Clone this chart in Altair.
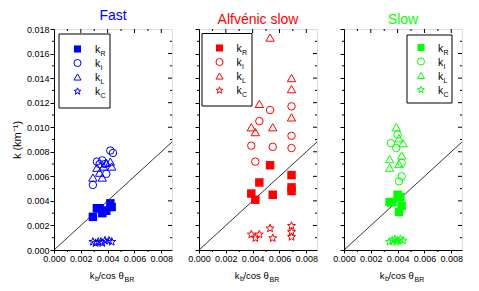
import math
import altair as alt
import pandas as pd

FONT = "Liberation Sans"
XMAX = 0.0088
YMAX = 0.018
W, H = 118, 221

panels = ["Fast", "Alfvénic slow", "Slow"]
colors = ["#0000ff", "#ff0000", "#00ff00"]
kinds = ["R", "I", "L", "C"]

x_ticks = [0.0, 0.002, 0.004, 0.006, 0.008]
y_ticks = [0.0, 0.002, 0.004, 0.006, 0.008, 0.010, 0.012, 0.014, 0.016, 0.018]
x_minor = [0.001, 0.003, 0.005, 0.007]
y_minor = [0.001, 0.003, 0.005, 0.007, 0.009, 0.011, 0.013, 0.015, 0.017]

# ---- Fast ----
fast_R_x = [0.0029, 0.0032, 0.0034, 0.0036, 0.0037, 0.0039, 0.0042, 0.0043]
fast_R_y = [0.0027, 0.0034, 0.0034, 0.0030, 0.0032, 0.0032, 0.0038, 0.0035]
fast_I_x = [0.0029, 0.0032, 0.0034, 0.0036, 0.0039, 0.0042, 0.0044, 0.0038]
fast_I_y = [0.0053, 0.0072, 0.0070, 0.0073, 0.0062, 0.0081, 0.0079, 0.0070]
fast_L_x = [0.0029, 0.0032, 0.0034, 0.0036, 0.0037, 0.0039, 0.0043, 0.0042]
fast_L_y = [0.0059, 0.0067, 0.0063, 0.0059, 0.0068, 0.0071, 0.0068, 0.0072]
fast_C_x = [0.0029, 0.0031, 0.0033, 0.0035, 0.0036, 0.0038, 0.0041, 0.0043]
fast_C_y = [0.0007, 0.0006, 0.0007, 0.0007, 0.0006, 0.0008, 0.0008, 0.0007]

# ---- Alfvenic slow ----
alf_R_x = [0.0039, 0.0042, 0.0045, 0.0053, 0.0055, 0.0069, 0.0069, 0.0069]
alf_R_y = [0.0046, 0.0041, 0.0055, 0.0069, 0.0045, 0.0061, 0.0051, 0.0048]
alf_I_x = [0.0039, 0.0042, 0.0045, 0.0053, 0.0055, 0.0069, 0.0069, 0.0069]
alf_I_y = [0.0085, 0.0072, 0.0105, 0.0114, 0.0084, 0.0117, 0.0093, 0.0083]
alf_L_x = [0.0053, 0.0069, 0.0069, 0.0045, 0.0069, 0.0039, 0.0042, 0.0055]
alf_L_y = [0.0173, 0.0140, 0.0131, 0.0119, 0.0108, 0.0100, 0.0096, 0.0100]
alf_C_x = [0.0039, 0.0042, 0.0045, 0.0053, 0.0055, 0.0069, 0.0069, 0.0069]
alf_C_y = [0.0013, 0.0010, 0.0013, 0.0018, 0.0010, 0.0020, 0.0015, 0.0011]

# ---- Slow ----
slow_R_x = [0.0034, 0.0036, 0.0040, 0.0042, 0.0043, 0.0041]
slow_R_y = [0.0039, 0.0039, 0.0045, 0.0043, 0.0036, 0.0031]
slow_I_x = [0.0035, 0.0039, 0.0040, 0.0043, 0.0041, 0.0043]
slow_I_y = [0.0087, 0.0083, 0.0094, 0.0060, 0.0056, 0.0071]
slow_L_x = [0.0039, 0.0041, 0.0044, 0.0034, 0.0043, 0.0034, 0.0041]
slow_L_y = [0.0100, 0.0091, 0.0087, 0.0074, 0.0077, 0.0067, 0.0070]
slow_C_x = [0.0034, 0.0036, 0.0038, 0.0040, 0.0042, 0.0044, 0.0039]
slow_C_y = [0.0007, 0.0008, 0.0009, 0.0008, 0.0009, 0.0008, 0.0007]

series = {
    "Fast": {"R": (fast_R_x, fast_R_y), "I": (fast_I_x, fast_I_y),
             "L": (fast_L_x, fast_L_y), "C": (fast_C_x, fast_C_y)},
    "Alfvénic slow": {"R": (alf_R_x, alf_R_y), "I": (alf_I_x, alf_I_y),
                      "L": (alf_L_x, alf_L_y), "C": (alf_C_x, alf_C_y)},
    "Slow": {"R": (slow_R_x, slow_R_y), "I": (slow_I_x, slow_I_y),
             "L": (slow_L_x, slow_L_y), "C": (slow_C_x, slow_C_y)},
}

rows = []
for p, dd in series.items():
    for k, (xs_, ys_) in dd.items():
        for a, b in zip(xs_, ys_):
            rows.append({"panel": p, "kind": k, "x": a, "y": b})
df = pd.DataFrame(rows)

# five-point star symbol path
pts = []
for i in range(10):
    r = 1.0 if i % 2 == 0 else 0.42
    a = -math.pi / 2 + i * math.pi / 5
    pts.append(f"{r*math.cos(a):.3f},{r*math.sin(a)+0.1:.3f}")
STAR = "M" + "L".join(pts) + "Z"

shape_of = {"R": "square", "I": "circle", "L": "triangle-up", "C": STAR}
filled_of = {"R": True, "I": False, "L": False, "C": False}
size_of = {"R": 72, "I": 56, "L": 70, "C": 70}

# legend layout per panel: (box x0, box x1, box y0, box y1, symbol x, k x, first row y)
legend_layout = [
    (5, 56, 5, 79, 23.5, 41, 20),
    (3, 53, 4.5, 77, 20.5, 37.5, 19),
    (63, 108, 6, 74, 77, 94, 18.5),
]

one = pd.DataFrame({"a": [0]})


def make_panel(idx):
    name = panels[idx]
    color = colors[idx]
    d = df[df.panel == name]
    xs = alt.Scale(domain=[0, XMAX], nice=False, zero=False)
    ys = alt.Scale(domain=[0, YMAX], nice=False, zero=False)
    xaxis = alt.Axis(values=x_ticks, format=".3f", title=None, grid=False,
                     tickSize=3, labelFontSize=9, labelFont=FONT,
                     labelColor="black", labelPadding=1, labelFlush=False,
                     labelOverlap=False, domainColor="black", tickColor="black")
    yargs = dict(values=y_ticks, format=".3f", grid=False, tickSize=4,
                 labelFontSize=9, labelFont=FONT, labelColor="black",
                 labelPadding=1, labelFlush=False, labelOverlap=False,
                 domainColor="black", tickColor="black")
    if idx == 0:
        yargs.update(title="k (km⁻¹)", titleFont=FONT, titleFontSize=11,
                     titleFontWeight="normal", titleColor="black", titlePadding=4)
    else:
        yargs.update(title=None, labels=False)
    yaxis = alt.Axis(**yargs)

    X = alt.X("x:Q", scale=xs, axis=xaxis)
    Y = alt.Y("y:Q", scale=ys, axis=yaxis)

    layers = []
    # diagonal y = x
    diag = pd.DataFrame({"x": [0.0, XMAX], "y": [0.0, XMAX]})
    layers.append(alt.Chart(diag).mark_line(color="black", strokeWidth=0.8, clip=True).encode(
        x=X, y=Y))

    # minor / mirror ticks
    ymaj = pd.DataFrame({"y": y_ticks[1:-1]})
    ymin = pd.DataFrame({"y": y_minor})
    xmaj = pd.DataFrame({"x": x_ticks[1:]})
    xmin = pd.DataFrame({"x": x_minor})
    tk = dict(color="black", strokeWidth=1)
    layers.append(alt.Chart(ymin).mark_rule(**tk).encode(
        y=Y, x=alt.value(-2), x2=alt.value(0)))
    layers.append(alt.Chart(ymin).mark_rule(**tk).encode(
        y=Y, x=alt.value(W - 2), x2=alt.value(W)))
    layers.append(alt.Chart(ymaj).mark_rule(**tk).encode(
        y=Y, x=alt.value(W - 4), x2=alt.value(W)))
    layers.append(alt.Chart(xmin).mark_rule(**tk).encode(
        x=X, y=alt.value(H), y2=alt.value(H + 2)))
    layers.append(alt.Chart(xmin).mark_rule(**tk).encode(
        x=X, y=alt.value(0), y2=alt.value(2)))
    layers.append(alt.Chart(xmaj).mark_rule(**tk).encode(
        x=X, y=alt.value(0), y2=alt.value(4)))

    # data points
    for k in kinds:
        filled = filled_of[k]
        mk = alt.Chart(d).transform_filter(alt.datum.kind == k).mark_point(
            shape=shape_of[k], size=size_of[k], filled=filled,
            fill=color if filled else "transparent", stroke=color,
            strokeWidth=1 if not filled else 0, opacity=1)
        layers.append(mk.encode(x=X, y=Y))

    # legend
    bx0, bx1, by0, by1, sx, kx, ry0 = legend_layout[idx]
    layers.append(alt.Chart(one).mark_rect(fill="white", stroke="black", strokeWidth=1).encode(
        x=alt.value(bx0), x2=alt.value(bx1), y=alt.value(by0), y2=alt.value(by1)))
    for i, k in enumerate(kinds):
        ry = ry0 + 14 * i
        filled = filled_of[k]
        layers.append(alt.Chart(one).mark_point(
            shape=shape_of[k], size=50, filled=filled,
            fill=color if filled else "transparent", stroke=color,
            strokeWidth=1 if not filled else 0, opacity=1).encode(
            x=alt.value(sx), y=alt.value(ry)))
        layers.append(alt.Chart(one).mark_text(
            text="k", font=FONT, fontSize=10.5, align="left", baseline="alphabetic",
            color="black").encode(x=alt.value(kx), y=alt.value(ry + 4)))
        layers.append(alt.Chart(one).mark_text(
            text=k, font=FONT, fontSize=7, align="left", baseline="alphabetic",
            color="black").encode(x=alt.value(kx + 5.5), y=alt.value(ry + 7)))

    # x-axis title: k_b/cos θ_BR
    tb = H + 28.7
    txt = dict(font=FONT, align="left", baseline="alphabetic", color="black")
    layers.append(alt.Chart(one).mark_text(text="k", fontSize=9.5, **txt).encode(
        x=alt.value(35.7), y=alt.value(tb)))
    layers.append(alt.Chart(one).mark_text(text="b", fontSize=7, **txt).encode(
        x=alt.value(41), y=alt.value(tb + 2)))
    layers.append(alt.Chart(one).mark_text(text="/cos θ", fontSize=9.5, **txt).encode(
        x=alt.value(44.4), y=alt.value(tb)))
    layers.append(alt.Chart(one).mark_text(text="BR", fontSize=7, **txt).encode(
        x=alt.value(70.5), y=alt.value(tb + 3)))

    return alt.layer(*layers).properties(
        width=W, height=H,
        title=alt.TitleParams(text=name, color=color, fontSize=14, font=FONT,
                              fontWeight="normal", offset=2, anchor="middle"))


chart = alt.hconcat(make_panel(0), make_panel(1), make_panel(2),
                    spacing=27, bounds="flush").properties(
    padding={"left": 2, "top": 0, "right": 5, "bottom": 0}
).configure_view(stroke="black", strokeWidth=1).configure(background="white")

chart.save("out.html", embed_options={"renderer": "svg", "actions": False})
